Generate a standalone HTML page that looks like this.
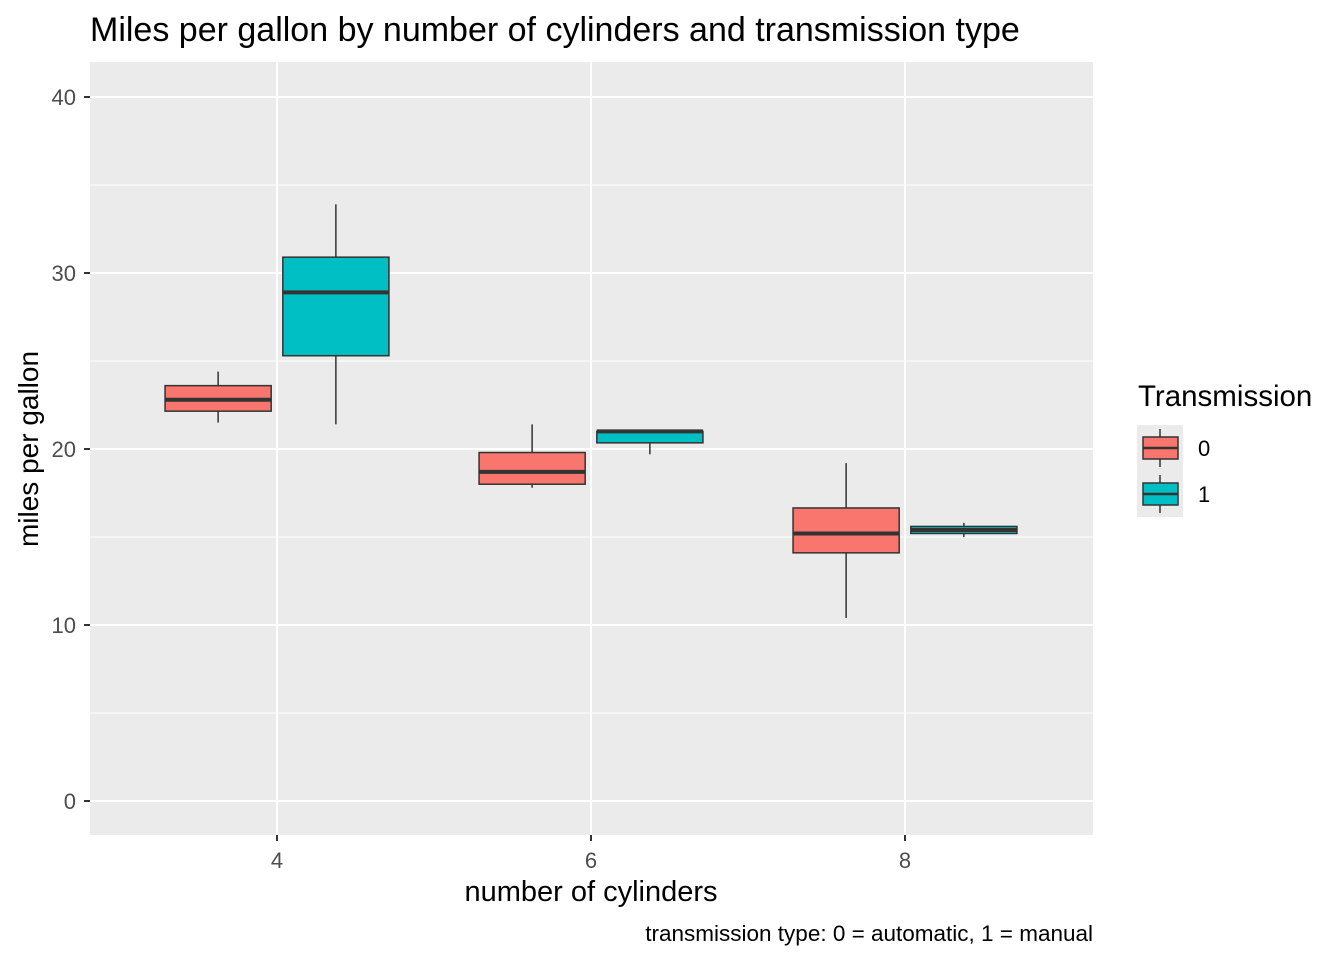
<!DOCTYPE html>
<html><head><meta charset="utf-8"><style>
body{margin:0;background:#fff;}
svg{display:block;font-family:"Liberation Sans",Arial,sans-serif;}
</style></head><body>
<svg id="chart" width="1344" height="960">
<rect x="0" y="0" width="1344" height="960" fill="#fff"/>
<text x="90" y="41" font-size="34" fill="#000">Miles per gallon by number of cylinders and transmission type</text>
<rect x="90" y="62" width="1003" height="773" fill="#ebebeb"/>
<g id="grid"></g>
<g id="boxes"></g>
<g id="axes"></g>
<text x="591" y="901" font-size="29" text-anchor="middle" fill="#000">number of cylinders</text>
<text transform="translate(38,449) rotate(-90)" font-size="28" text-anchor="middle" fill="#000">miles per gallon</text>
<text x="1093" y="941" font-size="22.5" text-anchor="end" fill="#000">transmission type: 0 = automatic, 1 = manual</text>
<text x="1138" y="406" font-size="29.5" fill="#000">Transmission</text>
<g id="legend"></g>
</svg>
<script>
const categories=[4,4,6,6,8,8];
const groups=['0','1','0','1','0','1'];
const lows=[21.5,21.4,17.8,19.7,10.4,15.0];
const q1s=[22.15,25.3,18.0,20.35,14.1,15.2];
const medians=[22.8,28.9,18.7,21.0,15.2,15.4];
const q3s=[23.6,30.9,19.8,21.0,16.65,15.6];
const highs=[24.4,33.9,21.4,21.0,19.2,15.8];
const yTicks=[0,10,20,30,40];
const xTicks=[4,6,8];
const colors={'0':'#f8766d','1':'#00bfc4'};
const NS='http://www.w3.org/2000/svg';
const X=v=>277+(v-4)*157;
const Y=v=>801-v*17.6;
function mk(t,a,p){const e=document.createElementNS(NS,t);for(const k in a)e.setAttribute(k,a[k]);p.appendChild(e);return e;}
const grid=document.getElementById('grid'),axes=document.getElementById('axes'),boxes=document.getElementById('boxes'),leg=document.getElementById('legend');
for(let i=0;i<yTicks.length-1;i++){const m=(yTicks[i]+yTicks[i+1])/2;const l=mk('line',{x1:90,x2:1093,y1:Y(m),y2:Y(m),stroke:'#fff','stroke-width':1},grid);

}
for(const t of yTicks){const l=mk('line',{x1:90,x2:1093,y1:Y(t),y2:Y(t),stroke:'#fff','stroke-width':2},grid);


const tk=mk('line',{x1:84,x2:90,y1:Y(t),y2:Y(t),stroke:'#333','stroke-width':2},axes);


const tx=mk('text',{x:76,y:Y(t)+8,'font-size':22,'text-anchor':'end',fill:'#4d4d4d'},axes);tx.textContent=t;

}
for(const t of xTicks){const l=mk('line',{x1:X(t),x2:X(t),y1:62,y2:835,stroke:'#fff','stroke-width':2},grid);


const tk=mk('line',{x1:X(t),x2:X(t),y1:835,y2:841,stroke:'#333','stroke-width':2},axes);


const tx=mk('text',{x:X(t),y:868,'font-size':22,'text-anchor':'middle',fill:'#4d4d4d'},axes);tx.textContent=t;

}
const off=0.375,hw=0.338;
for(let i=0;i<categories.length;i++){
const c=categories[i]+(groups[i]==='0'?-off:off);
const g=mk('g',{},boxes);


mk('line',{x1:X(c),x2:X(c),y1:Y(highs[i]),y2:Y(q3s[i]),stroke:'#333','stroke-width':1.5},g);
mk('line',{x1:X(c),x2:X(c),y1:Y(q1s[i]),y2:Y(lows[i]),stroke:'#333','stroke-width':1.5},g);
mk('rect',{x:X(c-hw),y:Y(q3s[i]),width:X(c+hw)-X(c-hw),height:Math.max(Y(q1s[i])-Y(q3s[i]),1),fill:colors[groups[i]],stroke:'#333','stroke-width':1.5},g);
mk('line',{x1:X(c-hw),x2:X(c+hw),y1:Y(medians[i]),y2:Y(medians[i]),stroke:'#333','stroke-width':4},g);}
['0','1'].forEach((k,j)=>{const y0=425+j*46;const g=mk('g',{},leg);


mk('rect',{x:1137,y:y0,width:46,height:46,fill:'#ebebeb'},g);
mk('line',{x1:1160,x2:1160,y1:y0+4,y2:y0+42,stroke:'#333','stroke-width':1.5},g);
mk('rect',{x:1143,y:y0+12,width:35,height:22,fill:colors[k],stroke:'#333','stroke-width':1.5},g);
mk('line',{x1:1143,x2:1178,y1:y0+23,y2:y0+23,stroke:'#333','stroke-width':2.5},g);
const t=mk('text',{x:1198,y:y0+31,'font-size':22,fill:'#000'},g);t.textContent=k;});
</script>
</body></html>
